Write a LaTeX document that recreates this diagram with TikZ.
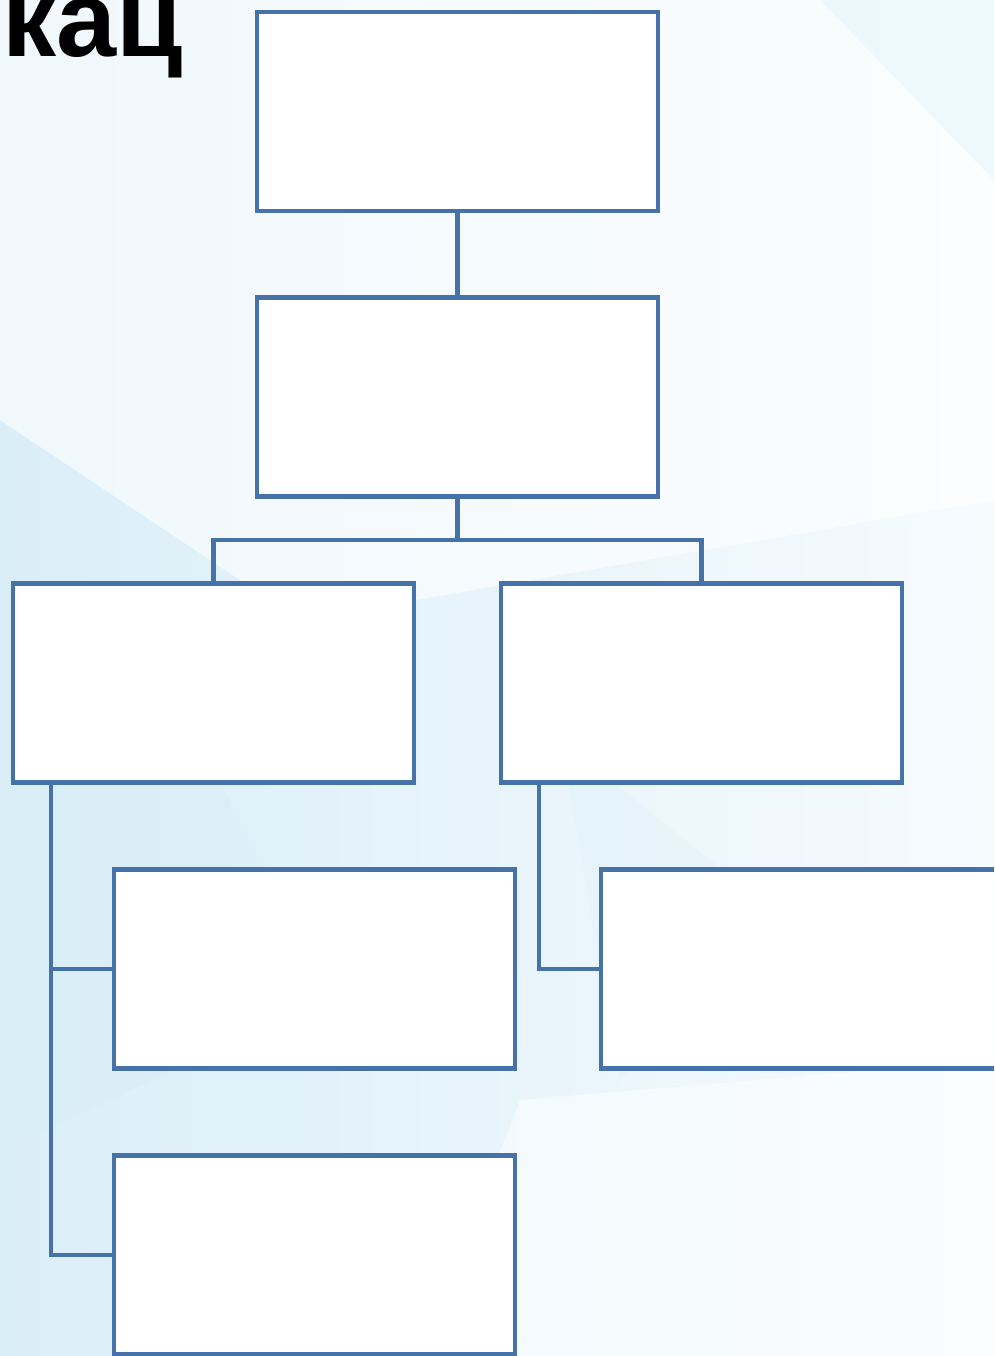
\documentclass[tikz,border=0pt]{standalone}
\usepackage{fontspec}
\setmainfont{Liberation Sans}
\usetikzlibrary{positioning}

\definecolor{boxblue}{RGB}{70,114,170}
\definecolor{bgA}{RGB}{246,251,254}
\definecolor{bgB}{RGB}{218,238,248}
\definecolor{bgC}{RGB}{226,246,253}

\begin{document}
\begin{tikzpicture}[
  x=1pt, y=-1pt,
  every node/.style={inner sep=0pt},
  orgbox/.style={draw=boxblue, fill=white, line width=4.5pt,
    minimum width=401pt, minimum height=199pt},
  link/.style={draw=boxblue, line width=4.5pt}
]
  % page and background
  \useasboundingbox (0,0) rectangle (994,1356);
  \clip (0,0) rectangle (994,1356);
  \shade[left color=bgB, right color=bgA] (0,0) rectangle (994,1356);
  \fill[white, opacity=0.6] (0,0) -- (994,0) -- (994,500) -- (300,620) -- (0,420) -- cycle;
  \fill[bgC, opacity=0.5] (820,0) -- (994,0) -- (994,180) -- cycle;
  \fill[bgB, opacity=0.5] (0,760) -- (180,700) -- (330,1000) -- (0,1150) -- cycle;
  \fill[white, opacity=0.5] (520,1100) -- (994,1060) -- (994,1356) -- (420,1356) -- cycle;
  \fill[bgB, opacity=0.3] (560,740) -- (760,900) -- (620,1080) -- cycle;

  % title
  \node[anchor=base west, font=\bfseries\fontsize{108}{108}\selectfont] (title) at (2,57) {кац};

  % boxes
  \node[orgbox] (bTop)   at (457.5,111.5) {};
  \node[orgbox] (bMid)   at (457.5,397)   {};
  \node[orgbox] (bLeft)  at (213.5,683)   {};
  \node[orgbox] (bRight) at (701.5,683)   {};
  \node[orgbox] (bLeftA) at (314.5,969)   {};
  \node[orgbox] (bLeftB) at (314.5,1255)  {};
  \node[orgbox] (bRightA) at (801.5,969)  {};

  % connectors
  \coordinate (jMid) at (457.5,540);
  \path[link] (bTop) -- (bMid);
  \path[link] (bMid) -- (jMid);
  \path[link] (jMid) -| (bLeft);
  \path[link] (jMid) -| (bRight);
  \coordinate (tLeft) at ([xshift=40pt]bLeft.south west);
  \coordinate (tRight) at ([xshift=40pt]bRight.south west);
  \path[link] (tLeft) |- (bLeftA.west);
  \path[link] (tLeft) |- (bLeftB.west);
  \path[link] (tRight) |- (bRightA.west);
\end{tikzpicture}
\end{document}
